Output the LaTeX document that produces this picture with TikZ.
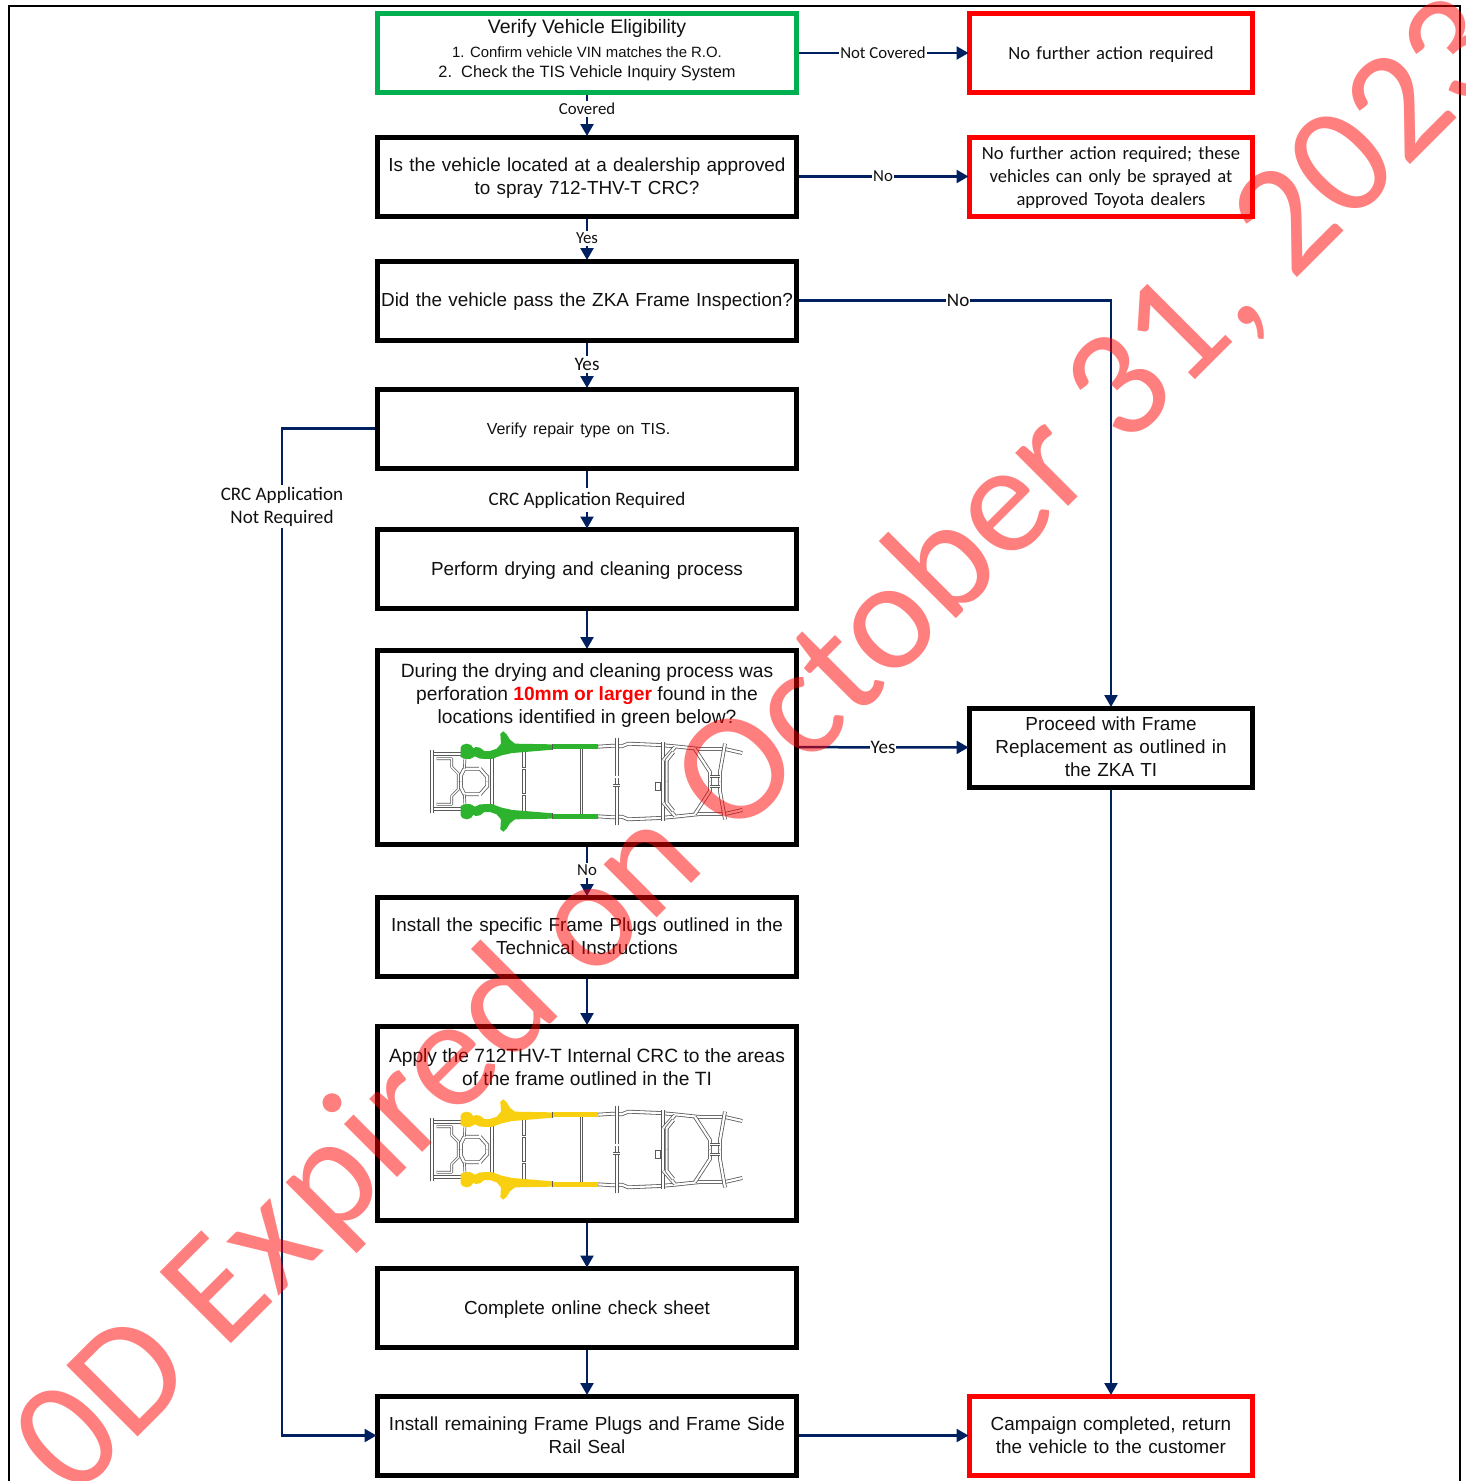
\documentclass[tikz,border=0pt]{standalone}
\usepackage{fontspec}
\setmainfont{Liberation Sans}
\newfontfamily\carlito{Carlito}
\usetikzlibrary{arrows.meta}
\definecolor{navy}{HTML}{002060}
\definecolor{fgreen}{HTML}{00B050}
\definecolor{chgreen}{HTML}{2DB32D}
\definecolor{chyellow}{HTML}{F8D010}
\definecolor{txt}{HTML}{111111}
\tikzset{
  x=1pt,y=-1pt,
  boxbase/.style={draw,line width=5pt,fill=white,inner sep=0pt,text width=412pt,align=center,
    minimum height=#1,text=txt,font=\fontsize{18.9}{23}\selectfont,
    execute at begin node={\rule{0pt}{17pt}},
    execute at end node={\rule[-5pt]{0pt}{5pt}}},
  boxbase/.default=79pt,
  mainbox/.style={boxbase,minimum width=419pt,draw=black},
  greenbox/.style={boxbase,minimum width=419pt,draw=fgreen},
  sidebox/.style={boxbase,minimum width=283pt,text width=276pt,draw=black},
  redbox/.style={boxbase,minimum width=283pt,text width=276pt,draw=red,font=\carlito\fontsize{18.6}{23}\selectfont},
  plain/.style={inner sep=0pt,align=center,text=txt,font=\fontsize{19.2}{23}\selectfont},
  conn/.style={draw=navy,line width=2.5pt,shorten >=-1.5pt,-{Triangle[length=12pt,width=13pt]}},
  tag/.style={fill=white,inner xsep=1pt,inner ysep=2pt,align=center,text=txt,font=\carlito\fontsize{19.1}{23}\selectfont},
  smalltag/.style={tag,font=\carlito\fontsize{16.8}{18}\selectfont},
  tube/.style={draw=black!65,line width=.8pt,double=white,double distance=2.2pt,line join=round},
  thin tube/.style={draw=black!65,line width=.7pt,double=white,double distance=1.3pt,line join=round},
}
\newcommand{\halfframe}[1]{%
  % front of the frame
  \draw[tube] (15,80)--(110,80);
  \draw[tube] (22,68)--(22,164);
  \draw[thin tube] (35,95)--(80,95)--(80,120)--(100,140)--(100,164);
  \draw[tube] (108,164)--(108,145)--(118,125)--(165,125)--(187,150)--(187,164);
  \draw[thin tube] (165,95)--(165,125);
  \draw[thin tube] (120,92)--(118,125);
  \draw[tube] (200,92)--(200,164);
  \draw[tube] (296,72)--(296,164);
  \draw[thin tube] (318,72)--(318,164);
  \draw[thin tube] (290,125)--(302,125);
  \draw[thin tube] (470,60)--(470,164);
  \draw[thin tube] (483,60)--(483,164);
  % rear of the frame
  \draw[tube] (520,59)--(565,56)--(590,58)--(610,50)--(705,54)--(750,58)--(825,66)--(900,66)--(952,78);
  \draw[tube] (575,32)--(575,164);
  \draw[tube] (715,46)--(715,164);
  \draw[tube] (715,100)--(750,60);
  \draw[tube] (745,75)--(725,100)--(725,164);
  \draw[tube] (810,66)--(855,135)--(855,164);
  \draw[tube] (900,50)--(885,135)--(885,164);
  \draw[thin tube] (828,78)--(885,78);
  \draw[thin tube] (855,148)--(885,148);
  \fill[#1] (107,62)--(112,54)--(125,50)--(138,54)--(145,64)--(152,60)--(165,62)--(178,72)--(195,72)--(215,65)--(228,50)--(226,20)--(235,13)--(245,22)--(255,38)--(270,50)--(380,52)--(383,68)--(300,75)--(262,78)--(230,85)--(200,96)--(165,95)--(150,88)--(135,96)--(118,95)--(107,90)--cycle;
  \fill[#1] (384,52)--(520,52)--(520,66)--(384,66)--cycle;
  \draw[black!65,line width=.8pt] (381,52)--(381,68);
}
\newcommand{\chassis}[2]{%
  \begin{scope}[shift={(425,#2)},x=.3333pt,y=-.3333pt]
    \halfframe{#1}
    \begin{scope}[shift={(0,327)},yscale=-1]
      \halfframe{#1}
    \end{scope}
    \draw[thin tube] (565,150)--(585,150);
    \draw[thin tube] (565,175)--(585,175);
    \draw[black!65,line width=.7pt] (692,165) rectangle (707,190);
    \draw[thin tube] (855,178)--(885,178);
  \end{scope}
}
\begin{document}
\begin{tikzpicture}
\useasboundingbox (0,0) rectangle (1466,1481);
\draw[black,line width=2pt] (8.5,1481)--(8.5,6)--(1460,6)--(1460,1481);

% boxes
\node[greenbox] (verify) at (587,53) {};
\node[mainbox] (dealer) at (587,176.5) {Is the vehicle located at a dealership approved\\to spray 712-THV-T CRC?};
\node[mainbox] (zka) at (587,300.5) {Did the vehicle pass the ZKA Frame Inspection?};
\node[mainbox] (repair) at (587,428.5) {\fontsize{16}{23}\selectfont\hspace*{-17pt}Verify repair type on TIS.};
\node[mainbox] (dry) at (587,569) {Perform drying and cleaning process};
\node[mainbox,boxbase=194pt] (perf) at (587,747) {};
\node[mainbox] (plugs) at (587,936.5) {Install the specific Frame Plugs outlined in the\\Technical Instructions};
\node[mainbox,boxbase=194pt] (apply) at (587,1123) {};
\node[mainbox] (sheet) at (587,1308) {Complete online check sheet};
\node[mainbox] (seal) at (587,1435.5) {Install remaining Frame Plugs and Frame Side\\Rail Seal};

\node[redbox] (nofurther) at (1111,53) {No further action required};
\node[redbox] (toyota) at (1111,176.5) {No further action required; these\\vehicles can only be sprayed at\\approved Toyota dealers};
\node[sidebox] (replace) at (1111,747.5) {Proceed with Frame\\Replacement as outlined in\\the ZKA TI};
\node[redbox,font=\fontsize{18.9}{23}\selectfont] (done) at (1111,1435.5) {Campaign completed, return\\the vehicle to the customer};

% texts inside the picture boxes
\node[plain,font=\fontsize{19.5}{23}\selectfont] (vtitle) at (587,28) {Verify Vehicle Eligibility};
\node[plain,font=\fontsize{14.9}{18}\selectfont] (vone) at (587,52) {1. Confirm vehicle VIN matches the R.O.};
\node[plain,font=\fontsize{16.4}{18}\selectfont] (vtwo) at (587,73) {2.\ \ Check the TIS Vehicle Inquiry System};
\node[plain,anchor=north] (ptext) at (587,663) {During the drying and cleaning process was\\perforation {\color{red}\bfseries 10mm or larger} found in the\\locations identified in green below?};
\node[plain,anchor=north] (atext) at (587,1048) {Apply the 712THV-T Internal CRC to the areas\\of the frame outlined in the TI};

\chassis{chgreen}{727}
\chassis{chyellow}{1095}

% connectors
\coordinate (lefttop) at (282,428.5);
\coordinate (leftbot) at (282,1435.5);
\coordinate (rightup) at (1111,300.5);
\draw[conn] (verify) -- node[smalltag,pos=.35] (lcov) {Covered} (dealer);
\draw[conn] (dealer) -- node[smalltag] (lyes1) {Yes} (zka);
\draw[conn] (zka) -- node[tag] (lyes2) {Yes} (repair);
\draw[conn] (repair) -- node[tag,inner ysep=4pt,yshift=-1.5pt] (lreq) {CRC Application Required} (dry);
\draw[conn] (dry) -- (perf);
\draw[conn] (perf) -- node[smalltag] (lno1) {No} (plugs);
\draw[conn] (plugs) -- (apply);
\draw[conn] (apply) -- (sheet);
\draw[conn] (sheet) -- (seal);
\draw[conn] (seal) -- (done);
\draw[conn] (verify) -- node[smalltag] (lnc) {Not Covered} (nofurther);
\draw[conn] (dealer) -- node[smalltag] (lno2) {No} (toyota);
\draw[conn] (perf) -- node[tag] (lyes3) {Yes} (replace);
\draw[conn] (zka) -- node[tag,pos=.51] (lno3) {No} (rightup) -- (replace);
\draw[conn] (replace) -- (done);
\draw[conn] (repair) -- (lefttop) -- node[tag,pos=.0765,yshift=-1pt] (lnot) {CRC Application\\Not Required} (leftbot) -- (seal);

% watermark
\begin{scope}
\clip (0,0) rectangle (1466,1481);
\node[anchor=base west,rotate=45,inner sep=0pt,text=red,text opacity=.5,font=\carlito\fontsize{157}{157}\selectfont] (mark) at (74,1501) {0D Ex\kern 8pt pired on October 31\kern 2pt, 2023};
\end{scope}
\end{tikzpicture}
\end{document}
